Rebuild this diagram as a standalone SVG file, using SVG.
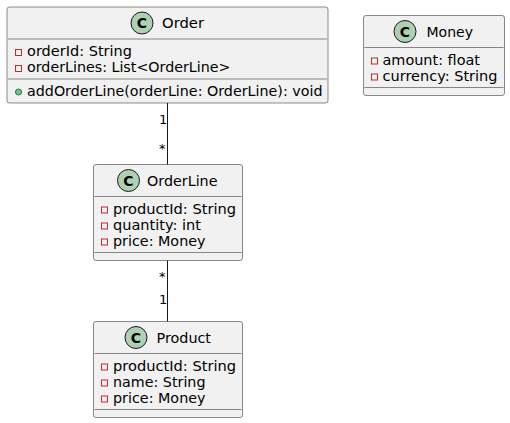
<svg xmlns="http://www.w3.org/2000/svg" width="510" height="423" viewBox="0 0 510 423">
<style>
.box{fill:#F1F1F1;stroke:#181818;stroke-width:0.5}
.sep{stroke:#181818;stroke-width:0.5}
.ci{fill:#ADD1B2;stroke:#181818;stroke-width:1}
.cl{font-family:"DejaVu Sans",sans-serif;font-size:14px;font-weight:bold;fill:#000;text-anchor:middle}
.nm{font-family:"DejaVu Sans",sans-serif;font-size:14px;fill:#000}
.at{font-family:"DejaVu Sans",sans-serif;font-size:14px;fill:#000}
.pv{fill:none;stroke:#C82930;stroke-width:1}
.pb{fill:#84BE84;stroke:#038048;stroke-width:1}
.ln{stroke:#181818;stroke-width:1;fill:none}
.lb{font-family:"DejaVu Sans",sans-serif;font-size:13px;fill:#000}
</style>
<rect width="510" height="423" fill="#FFFFFF"/>
<g id="Order">
<rect class="box" x="7" y="7" width="321" height="96" rx="2.5" ry="2.5"/>
<circle class="ci" cx="142" cy="23" r="11"/>
<text class="cl" x="142" y="28">C</text>
<text class="nm" x="162" y="28" textLength="42" lengthAdjust="spacingAndGlyphs">Order</text>
<line class="sep" x1="8" y1="39" x2="327" y2="39"/>
<rect class="pv" x="15.5" y="49.5" width="6" height="6"/>
<text class="at" x="27" y="56" textLength="105" lengthAdjust="spacingAndGlyphs">orderId: String</text>
<rect class="pv" x="15.5" y="65.5" width="6" height="6"/>
<text class="at" x="27" y="72" textLength="203.5" lengthAdjust="spacingAndGlyphs">orderLines: List&lt;OrderLine&gt;</text>
<line class="sep" x1="8" y1="79" x2="327" y2="79"/>
<circle class="pb" cx="18.5" cy="92" r="3"/>
<text class="at" x="27" y="96" textLength="295.5" lengthAdjust="spacingAndGlyphs">addOrderLine(orderLine: OrderLine): void</text>
</g>
<g id="Money">
<rect class="box" x="363.5" y="15.5" width="141" height="80" rx="2.5" ry="2.5"/>
<circle class="ci" cx="405" cy="31.5" r="11"/>
<text class="cl" x="405" y="36.5">C</text>
<text class="nm" x="426.5" y="36.5" textLength="46.5" lengthAdjust="spacingAndGlyphs">Money</text>
<line class="sep" x1="364.5" y1="47.5" x2="503.5" y2="47.5"/>
<rect class="pv" x="371.5" y="58" width="6" height="6"/>
<text class="at" x="382.5" y="64.5" textLength="97.5" lengthAdjust="spacingAndGlyphs">amount: float</text>
<rect class="pv" x="371.5" y="74" width="6" height="6"/>
<text class="at" x="382.5" y="80.5" textLength="115" lengthAdjust="spacingAndGlyphs">currency: String</text>
<line class="sep" x1="364.5" y1="87.5" x2="503.5" y2="87.5"/>
</g>
<g id="OrderLine">
<rect class="box" x="93.5" y="164.5" width="149" height="96" rx="2.5" ry="2.5"/>
<circle class="ci" cx="128.5" cy="180.5" r="11"/>
<text class="cl" x="128.5" y="185.5">C</text>
<text class="nm" x="147" y="185.5" textLength="70.5" lengthAdjust="spacingAndGlyphs">OrderLine</text>
<line class="sep" x1="94.5" y1="196.5" x2="241.5" y2="196.5"/>
<rect class="pv" x="101.5" y="207" width="6" height="6"/>
<text class="at" x="113" y="213.5" textLength="123" lengthAdjust="spacingAndGlyphs">productId: String</text>
<rect class="pv" x="101.5" y="223" width="6" height="6"/>
<text class="at" x="113" y="229.5" textLength="88" lengthAdjust="spacingAndGlyphs">quantity: int</text>
<rect class="pv" x="101.5" y="239" width="6" height="6"/>
<text class="at" x="113" y="245.5" textLength="92.5" lengthAdjust="spacingAndGlyphs">price: Money</text>
<line class="sep" x1="94.5" y1="252.5" x2="241.5" y2="252.5"/>
</g>
<g id="Product">
<rect class="box" x="93.5" y="321.5" width="149" height="96" rx="2.5" ry="2.5"/>
<circle class="ci" cx="136" cy="337.5" r="11"/>
<text class="cl" x="136" y="342.5">C</text>
<text class="nm" x="156.5" y="342.5" textLength="54.5" lengthAdjust="spacingAndGlyphs">Product</text>
<line class="sep" x1="94.5" y1="353.5" x2="241.5" y2="353.5"/>
<rect class="pv" x="101.5" y="364" width="6" height="6"/>
<text class="at" x="113" y="370.5" textLength="123" lengthAdjust="spacingAndGlyphs">productId: String</text>
<rect class="pv" x="101.5" y="380" width="6" height="6"/>
<text class="at" x="113" y="386.5" textLength="92.5" lengthAdjust="spacingAndGlyphs">name: String</text>
<rect class="pv" x="101.5" y="396" width="6" height="6"/>
<text class="at" x="113" y="402.5" textLength="92.5" lengthAdjust="spacingAndGlyphs">price: Money</text>
<line class="sep" x1="94.5" y1="409.5" x2="241.5" y2="409.5"/>
</g>
<g id="connectors">
<line class="ln" x1="167.5" y1="103" x2="167.5" y2="164.5"/>
<text class="lb" x="159" y="124">1</text>
<text class="lb" x="159" y="153">*</text>
<line class="ln" x1="167.5" y1="260.5" x2="167.5" y2="321.5"/>
<text class="lb" x="159" y="281">*</text>
<text class="lb" x="159" y="304">1</text>
</g>
</svg>
